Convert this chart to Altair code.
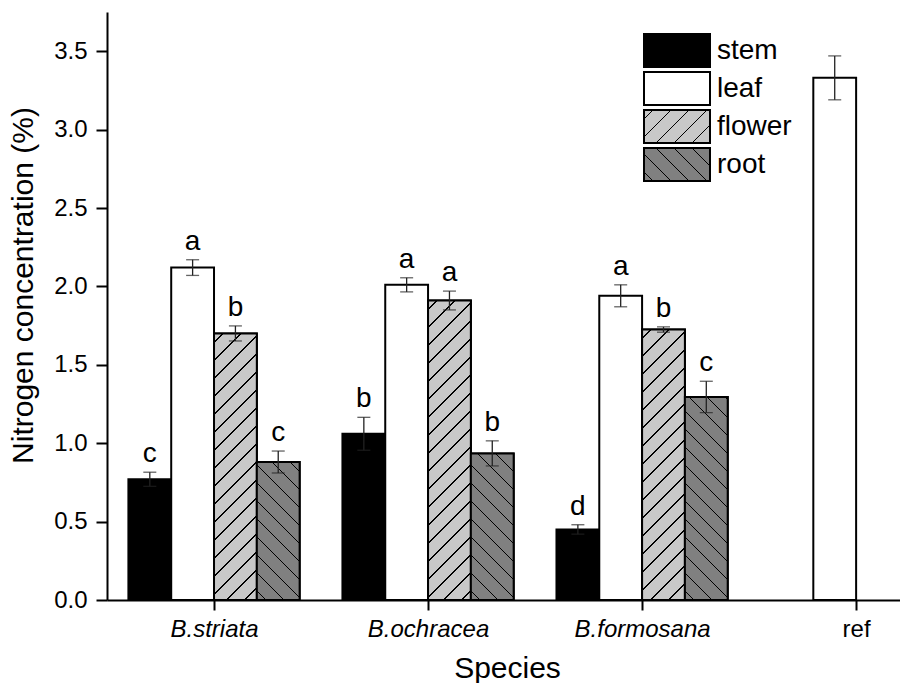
import json
import altair as alt
import pandas as pd

# ---------------- data ----------------
species = ["B.striata", "B.ochracea", "B.formosana", "ref"]
parts = ["stem", "leaf", "flower", "root"]

stem = [0.77, 1.06, 0.45, None]
leaf = [2.12, 2.01, 1.94, 3.33]
flower = [1.70, 1.91, 1.725, None]
root = [0.88, 0.935, 1.295, None]

stem_err = [0.045, 0.105, 0.03, None]
leaf_err = [0.05, 0.045, 0.07, 0.14]
flower_err = [0.048, 0.06, 0.017, None]
root_err = [0.07, 0.08, 0.10, None]

stem_lbl = ["c", "b", "d", None]
leaf_lbl = ["a", "a", "a", None]
flower_lbl = ["b", "a", "b", None]
root_lbl = ["c", "b", "c", None]

y_ticks = [0.0, 0.5, 1.0, 1.5, 2.0, 2.5, 3.0, 3.5]

# ---------------- style ----------------
W, H = 793, 588
X_DOM = [-0.5, 3.205]
Y_DOM = [0, 3.75]
BAR_W = 0.2
FONT = "Liberation Sans"
fills = {"stem": "#000000", "leaf": "#ffffff", "flower": "#c8c8c8", "root": "#808080"}
hatch_dir = {"flower": "/", "root": "\\"}

vals = {"stem": stem, "leaf": leaf, "flower": flower, "root": root}
errs = {"stem": stem_err, "leaf": leaf_err, "flower": flower_err, "root": root_err}
lbls = {"stem": stem_lbl, "leaf": leaf_lbl, "flower": flower_lbl, "root": root_lbl}

rows = []
for pi, p in enumerate(parts):
    for si, s in enumerate(species):
        v = vals[p][si]
        if v is None:
            continue
        x0 = si + (pi - 2) * BAR_W
        e = errs[p][si]
        rows.append(dict(species=s, si=si, part=p, value=v, x=x0, x2=x0 + BAR_W,
                         xc=x0 + BAR_W / 2, lo=v - e, hi=v + e, label=lbls[p][si] or ""))
df = pd.DataFrame(rows)


def hatch(w, h, bg, direction, period=18.0, lw=1.5):
    tot = w + h
    s = (1 / h + 1 / w) / (1 / h ** 2 + 1 / w ** 2)
    if direction == "/":
        x1, y1, x2, y2 = 0, 0, s / h, s / w
    else:
        x1, y1, x2, y2 = 0, 1, s / h, 1 - s / w
    stops = [{"offset": 0, "color": bg}]
    c = period / 2
    while c < tot:
        a = round(max(c - lw / 2, 0) / tot, 5)
        b = round(min(c + lw / 2, tot) / tot, 5)
        stops += [{"offset": a, "color": bg}, {"offset": a, "color": "black"},
                  {"offset": b, "color": "black"}, {"offset": b, "color": bg}]
        c += period
    stops.append({"offset": 1, "color": bg})
    return {"gradient": "linear", "x1": round(x1, 5), "y1": round(y1, 5),
            "x2": round(x2, 5), "y2": round(y2, 5), "stops": stops}


def grad_expr(g):
    st = ",".join("{offset:%s,color:'%s'}" % (s["offset"], s["color"]) for s in g["stops"])
    return "{gradient:'linear',x1:%s,y1:%s,x2:%s,y2:%s,stops:[%s]}" % (
        g["x1"], g["y1"], g["x2"], g["y2"], st)


px_x = W / (X_DOM[1] - X_DOM[0])
px_y = H / (Y_DOM[1] - Y_DOM[0])

xs = alt.Scale(domain=X_DOM, nice=False, zero=False)
ys = alt.Scale(domain=Y_DOM, nice=False)

x_axis = alt.Axis(
    values=list(range(len(species))),
    labelExpr=f"{json.dumps(species)}[datum.value]",
    labelFontSize=24, labelColor="black", labelPadding=7,
    labelFontStyle={"condition": {"test": f"datum.value == {len(species) - 1}", "value": "normal"},
                    "value": "italic"},
    labelFlush=False, labelOverlap=False,
    tickSize=10, tickWidth=2, tickColor="black",
    domainWidth=2, domainColor="black", grid=False,
    title="Species", titleFontSize=30, titleFontWeight="normal", titleColor="black",
    titleBaseline="alphabetic", titleY=77, titleX=400,
)
y_axis = alt.Axis(
    values=y_ticks, format=".1f",
    labelFontSize=24, labelColor="black", labelPadding=9,
    tickSize=11, tickWidth=2, tickColor="black",
    domainWidth=2, domainColor="black", grid=False,
    title="Nitrogen concentration (%)", titleFontSize=30, titleFontWeight="normal",
    titleColor="black", titleBaseline="bottom", titleAlign="center",
    titleX=-69, titleY=273,
)

LW, LH = 66, 33
color_range = [
    fills["stem"], fills["leaf"],
    {"expr": grad_expr(hatch(LW, LH, fills["flower"], "/"))},
    {"expr": grad_expr(hatch(LW, LH, fills["root"], "\\"))},
]
legend = alt.Legend(
    orient="none", legendX=536, legendY=21, title=None, padding=0,
    symbolType="M-1,-1H3V1H-1Z", symbolSize=LH * LH,
    symbolStrokeColor="black", symbolStrokeWidth=2, symbolOpacity=1,
    labelFontSize=28, labelColor="black", labelOffset=39, rowPadding=-5,
)

base = alt.Chart(df)

bars = base.mark_bar(stroke="black", strokeWidth=2, opacity=1).encode(
    x=alt.X("x:Q", scale=xs, axis=x_axis),
    x2="x2:Q",
    y=alt.Y("value:Q", scale=ys, axis=y_axis),
    y2=alt.datum(0),
    color=alt.Color("part:N", scale=alt.Scale(domain=parts, range=color_range), legend=legend),
)

layers = [bars]
for r in rows:
    if r["part"] in hatch_dir:
        g = hatch(BAR_W * px_x, r["value"] * px_y, fills[r["part"]], hatch_dir[r["part"]])
        layers.append(
            base.transform_filter(f"datum.si == {r['si']} && datum.part == '{r['part']}'")
            .mark_bar(fill=g, stroke="black", strokeWidth=2)
            .encode(x="x:Q", x2="x2:Q", y="value:Q", y2=alt.datum(0))
        )

err_rule = base.mark_rule(color="#222222", strokeWidth=1.3).encode(x="xc:Q", y="lo:Q", y2="hi:Q")
cap_hi = base.mark_tick(orient="horizontal", size=13, thickness=1.3, color="#222222").encode(
    x="xc:Q", y="hi:Q")
cap_lo = base.mark_tick(orient="horizontal", size=13, thickness=1.3, color="#222222").encode(
    x="xc:Q", y="lo:Q")
letters = base.transform_filter("datum.label != ''").mark_text(
    fontSize=28, baseline="alphabetic", dy=-10, color="black", font=FONT
).encode(x="xc:Q", y="hi:Q", text="label:N")

layers += [err_rule, cap_hi, cap_lo, letters]

chart = alt.layer(*layers).properties(
    width=W, height=H,
    padding={"left": 107, "top": 12, "right": 0, "bottom": 83},
    autosize=alt.AutoSizeParams(type="none"),
    background="white",
).configure(font=FONT).configure_view(strokeWidth=0)

chart.save("out.html", embed_options={"renderer": "svg", "actions": False})
